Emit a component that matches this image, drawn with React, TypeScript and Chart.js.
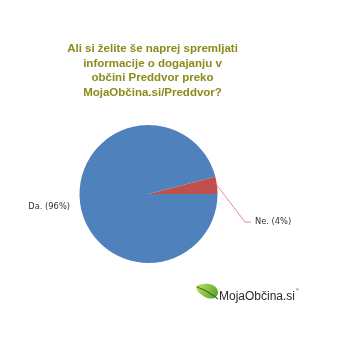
import React, { useEffect, useRef } from "react";
import { Chart, registerables } from "chart.js";

Chart.register(...registerables);

const titleLines = [
  "Ali si želite še naprej spremljati",
  "informacije o dogajanju v",
  "občini Preddvor preko",
  "MojaObčina.si/Preddvor?",
];
const answers = ["Da.", "Ne."];
const shares = [96, 4];
const colors = ["#4f81bd", "#c0504d"];

const overlay = {
  id: "overlay",
  afterDraw(chart: any) {
    const ctx = chart.ctx as CanvasRenderingContext2D;
    ctx.save();

    // title
    ctx.fillStyle = "#8b8b1c";
    ctx.font = "bold 11.5px 'Liberation Sans', Arial, sans-serif";
    ctx.textAlign = "center";
    ctx.textBaseline = "middle";
    titleLines.forEach((t, i) => ctx.fillText(t, 152.5, 49 + i * 14.5));

    // slice labels
    const meta = chart.getDatasetMeta(0);
    ctx.font = "8.3px 'DejaVu Sans', Verdana, sans-serif";
    ctx.fillStyle = "#333333";
    const labelText = (i: number) => `${answers[i]} (${shares[i]}%)`;

    ctx.textAlign = "right";
    ctx.fillText(labelText(0), 70, 207);

    const arc = meta.data[1];
    const { x, y, startAngle, endAngle, outerRadius } = arc.getProps(
      ["x", "y", "startAngle", "endAngle", "outerRadius"],
      true
    );
    const mid = (startAngle + endAngle) / 2;
    const sx = x + Math.cos(mid) * outerRadius;
    const sy = y + Math.sin(mid) * outerRadius;
    ctx.strokeStyle = "#d9908e";
    ctx.lineWidth = 1;
    ctx.beginPath();
    ctx.moveTo(sx, sy);
    ctx.lineTo(245, 222);
    ctx.lineTo(251, 222);
    ctx.stroke();
    ctx.textAlign = "left";
    ctx.fillText(labelText(1), 255, 222);

    // brand mark: leaf + wordmark
    const lx = 196, ly = 284;
    const g = ctx.createLinearGradient(lx, ly, lx + 22, ly + 15);
    g.addColorStop(0, "#c4e36a");
    g.addColorStop(1, "#4c9a20");
    ctx.fillStyle = g;
    ctx.beginPath();
    ctx.moveTo(lx, ly + 2);
    ctx.bezierCurveTo(lx + 8, ly - 2, lx + 21, ly - 1, lx + 22, ly + 8);
    ctx.bezierCurveTo(lx + 22, ly + 15, lx + 14, ly + 16, lx + 9, ly + 13);
    ctx.bezierCurveTo(lx + 3, ly + 10, lx, ly + 6, lx, ly + 2);
    ctx.fill();
    ctx.strokeStyle = "#3a7418";
    ctx.lineWidth = 1.2;
    ctx.beginPath();
    ctx.moveTo(lx + 1, ly + 3);
    ctx.quadraticCurveTo(lx + 12, ly + 7, lx + 22, ly + 15);
    ctx.stroke();

    ctx.fillStyle = "#2b2b2b";
    ctx.font = "12px 'Liberation Sans', Arial, sans-serif";
    ctx.textAlign = "left";
    ctx.fillText("MojaObčina.si", 219, 297);
    ctx.font = "4px sans-serif";
    ctx.fillText("®", 296, 290);

    ctx.restore();
  },
};

export default function App() {
  const ref = useRef<HTMLCanvasElement>(null);
  useEffect(() => {
    if (!ref.current) return;
    const chart = new Chart(ref.current, {
      type: "pie",
      data: {
        labels: answers,
        datasets: [
          {
            data: shares,
            backgroundColor: colors,
            borderWidth: 0,
          },
        ],
      },
      options: {
        animation: false,
        responsive: false,
        rotation: 90,
        layout: { padding: { left: 79.5, right: 132.5, top: 125, bottom: 93 } },
        plugins: {
          legend: { display: false },
          tooltip: { enabled: false },
        },
      },
      plugins: [overlay],
    });
    return () => chart.destroy();
  }, []);
  return (
    <div style={{ position: "absolute", left: 0, top: 0, width: 350, height: 356, background: "#fff" }}>
      <canvas ref={ref} width={350} height={356} />
    </div>
  );
}
